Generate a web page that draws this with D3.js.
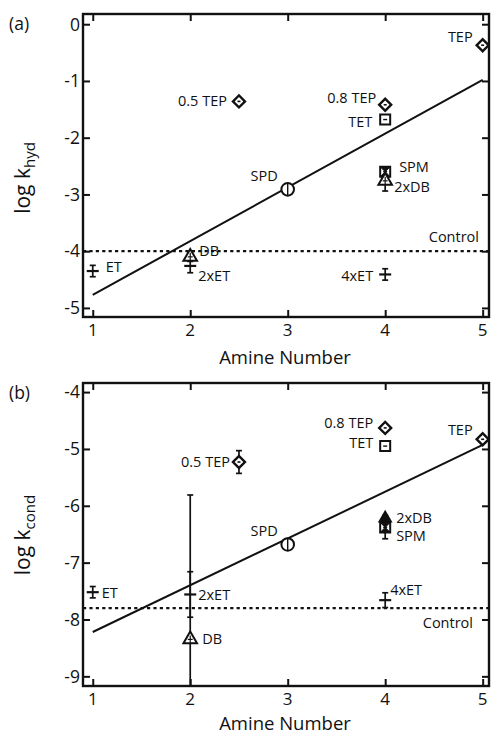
<!DOCTYPE html>
<html>
<head>
<meta charset="utf-8">
<script src="https://cdn.jsdelivr.net/npm/d3@7"></script>
<style>
  body { margin: 0; background: #fff; }
  svg text { font-family: "Open Sans", "DejaVu Sans", sans-serif; fill: #111; }
</style>
</head>
<body>
<div id="chart"></div>
<script>
// ---- data ----
const xTicks = [1, 2, 3, 4, 5];

// panel (a): log k_hyd
const namesA   = ['ET', 'DB', '2xET', '0.5 TEP', 'SPD', '0.8 TEP', 'TET', 'SPM', '2xDB', 'TEP', '4xET'];
const amineA   = [1, 2, 2, 2.5, 3, 4, 4, 4, 4, 5, 4];
const logKhyd  = [-4.35, -4.1, -4.26, -1.36, -2.91, -1.42, -1.68, -2.6, -2.76, -0.37, -4.41];
const errKhyd  = [0.1, 0.08, 0.12, 0, 0.06, 0, 0.05, 0.05, 0.18, 0, 0.1];
const markA    = ['plus', 'triangle', 'plus', 'diamond', 'circle', 'diamond', 'square', 'squareX', 'triangle', 'diamond', 'plus'];
const yTicksA  = [0, -1, -2, -3, -4, -5];
const fitA     = [-4.77, -0.98];   // fit line at x = 1 and x = 5
const controlA = -4.0;

// panel (b): log k_cond
const namesB   = ['ET', '2xET', 'DB', '0.5 TEP', 'SPD', '0.8 TEP', 'TET', 'TEP', '2xDB', 'SPM', '4xET'];
const amineB   = [1, 2, 2, 2.5, 3, 4, 4, 5, 4, 4, 4];
const logKcond = [-7.52, -7.56, -8.35, -5.23, -6.68, -4.63, -4.95, -4.83, -6.22, -6.38, -7.66];
const errKcond = [0.1, 0.4, 2.54, 0.2, 0.1, 0, 0.08, 0, 0.05, 0.2, 0.13];
const markB    = ['plus', 'plus', 'triangle', 'diamond', 'circle', 'diamond', 'square', 'diamond', 'triangleFilled', 'squareX', 'plus'];
const yTicksB  = [-4, -5, -6, -7, -8, -9];
const fitB     = [-8.22, -4.93];
const controlB = -7.8;

// label placement (offset from the marker, px)
const labelA = {
  'ET': [13, -4, 'start'], 'DB': [9, -6, 'start'], '2xET': [8, 10, 'start'],
  '0.5 TEP': [-12, 0, 'end'], 'SPD': [-10, -13, 'end'], '0.8 TEP': [-9, -7, 'end'],
  'TET': [-13, 2, 'end'], 'SPM': [14, -5, 'start'], '2xDB': [9, 6, 'start'],
  'TEP': [-10, -8, 'end'], '4xET': [-12, 1, 'end']
};
const labelB = {
  'ET': [9, 1, 'start'], '2xET': [8, 0, 'start'], 'DB': [12, 0, 'start'],
  '0.5 TEP': [-9, 0, 'end'], 'SPD': [-10, -14, 'end'], '0.8 TEP': [-12, -5, 'end'],
  'TET': [-12, -3, 'end'], 'TEP': [-10, -9, 'end'], '2xDB': [11, 0, 'start'],
  'SPM': [11, 9, 'start'], '4xET': [5, -10, 'start']
};

const W = 492, H = 735;
const left = 83, right = 489;

const svg = d3.select('#chart').append('svg')
  .attr('width', W).attr('height', H);

const x = d3.scaleLinear().domain([0.9, 5.065]).range([left, right]);

function drawPanel(cfg) {
  const y = d3.scaleLinear().domain(cfg.yDomain).range([cfg.bottom, cfg.top]);
  const g = svg.append('g');

  g.append('clipPath').attr('id', 'clip' + cfg.id)
    .append('rect').attr('x', left).attr('y', cfg.top)
    .attr('width', right - left).attr('height', cfg.bottom - cfg.top);

  // axes, ticks all pointing inward
  g.append('g').attr('transform', `translate(0,${cfg.bottom})`)
    .call(d3.axisBottom(x).tickValues(xTicks).tickSize(-7).tickFormat(''))
    .call(a => a.select('.domain').remove());
  g.append('g').attr('transform', `translate(0,${cfg.top})`)
    .call(d3.axisTop(x).tickValues(xTicks).tickSize(-7).tickFormat(''))
    .call(a => a.select('.domain').remove());
  g.append('g').attr('transform', `translate(${left},0)`)
    .call(d3.axisLeft(y).tickValues(cfg.yTicks).tickSize(-7).tickFormat(''))
    .call(a => a.select('.domain').remove());
  g.append('g').attr('transform', `translate(${right},0)`)
    .call(d3.axisRight(y).tickValues(cfg.yTicks).tickSize(-7).tickFormat(''))
    .call(a => a.select('.domain').remove());
  g.selectAll('.tick line').attr('stroke', '#111').attr('stroke-width', 2);

  g.append('rect')
    .attr('x', left).attr('y', cfg.top)
    .attr('width', right - left).attr('height', cfg.bottom - cfg.top)
    .attr('fill', 'none').attr('stroke', '#111').attr('stroke-width', 2.4);

  // tick labels
  g.selectAll('.xl').data(xTicks).join('text')
    .attr('x', d => x(d)).attr('y', cfg.xTickY)
    .attr('text-anchor', 'middle').attr('font-size', 17)
    .text(d => d);
  g.selectAll('.yl').data(cfg.yTicks).join('text')
    .attr('x', left - 3).attr('y', d => y(d)).attr('dy', '0.36em')
    .attr('text-anchor', 'end').attr('font-size', 17.5)
    .text(d => d === 0 ? '0' : '-' + Math.abs(d));

  // axis titles
  g.append('text').attr('x', (left + right) / 2 - 1).attr('y', cfg.xTitleY)
    .attr('text-anchor', 'middle').attr('font-size', 18.5).text('Amine Number');
  const yt = g.append('text')
    .attr('transform', `translate(30,${cfg.yTitleY}) rotate(-90)`)
    .attr('text-anchor', 'middle').attr('font-size', 21);
  yt.append('tspan').text('log k');
  yt.append('tspan').attr('font-size', 15).attr('dy', 5).text(cfg.sub);

  g.append('text').attr('x', 9).attr('y', cfg.top + 16)
    .attr('font-size', 17.5).text(cfg.tag);

  const plot = g.append('g').attr('clip-path', `url(#clip${cfg.id})`);

  // control level
  plot.append('line')
    .attr('x1', left).attr('x2', right)
    .attr('y1', y(cfg.control)).attr('y2', y(cfg.control))
    .attr('stroke', '#111').attr('stroke-width', 2.2).attr('stroke-dasharray', '3.2,3.2');

  // linear fit
  plot.append('line')
    .attr('x1', x(1)).attr('y1', y(cfg.fit[0]))
    .attr('x2', x(5)).attr('y2', y(cfg.fit[1]))
    .attr('stroke', '#111').attr('stroke-width', 2);

  const pts = cfg.names.map((n, i) => ({
    name: n, x: cfg.xs[i], v: cfg.vals[i], e: cfg.errs[i], m: cfg.marks[i]
  }));

  // error bars
  const eb = plot.selectAll('.eb').data(pts.filter(d => d.e > 0)).join('g')
    .attr('stroke', '#111').attr('stroke-width', 1.7);
  eb.append('line')
    .attr('x1', d => x(d.x)).attr('x2', d => x(d.x))
    .attr('y1', d => y(d.v - d.e)).attr('y2', d => y(d.v + d.e));
  eb.append('line')
    .attr('x1', d => x(d.x) - 3).attr('x2', d => x(d.x) + 3)
    .attr('y1', d => y(d.v + d.e)).attr('y2', d => y(d.v + d.e));
  eb.append('line')
    .attr('x1', d => x(d.x) - 3).attr('x2', d => x(d.x) + 3)
    .attr('y1', d => y(d.v - d.e)).attr('y2', d => y(d.v - d.e));

  // markers
  const mk = plot.selectAll('.mk').data(pts).join('g')
    .attr('transform', d => `translate(${x(d.x)},${y(d.v)})`)
    .attr('stroke', '#111').attr('stroke-width', 2).attr('fill', '#fff');
  mk.each(function (d) {
    const s = d3.select(this);
    if (d.m === 'plus') {
      s.append('line').attr('x1', -6).attr('x2', 6).attr('stroke-width', 2.2);
    } else if (d.m === 'diamond') {
      s.append('path').attr('d', d3.symbol(d3.symbolSquare, 72)()).attr('transform', 'rotate(45)')
        .attr('stroke-width', 2.4);
      s.append('line').attr('x1', -1.5).attr('x2', 1.5).attr('stroke-width', 1.6);
    } else if (d.m === 'square' || d.m === 'squareX') {
      s.append('path').attr('d', d3.symbol(d3.symbolSquare, 100)());
      if (d.m === 'squareX') {
        s.append('path').attr('d', 'M-5,-5L5,-5L0,0ZM-5,5L5,5L0,0Z').attr('fill', '#111').attr('stroke-width', 1);
      }
      s.append('line').attr('x1', -2).attr('x2', 2).attr('stroke-width', 1.4);
    } else if (d.m === 'triangle' || d.m === 'triangleFilled') {
      s.append('path').attr('d', d3.symbol(d3.symbolTriangle, d.m === 'triangleFilled' ? 55 : 80)())
        .attr('fill', d.m === 'triangleFilled' ? '#111' : '#fff');
      s.append('line').attr('y1', -4).attr('y2', 4).attr('stroke-width', 1.2);
      s.append('line').attr('x1', -2.5).attr('x2', 2.5).attr('stroke-width', 1.2);
    } else if (d.m === 'circle') {
      s.append('circle').attr('r', 6.3);
      s.append('line').attr('y1', -6).attr('y2', 6).attr('stroke-width', 1.4);
    }
  });

  // point labels
  g.selectAll('.pl').data(pts).join('text')
    .attr('x', d => x(d.x) + cfg.labels[d.name][0])
    .attr('y', d => y(d.v) + cfg.labels[d.name][1])
    .attr('dy', '0.35em')
    .attr('text-anchor', d => cfg.labels[d.name][2])
    .attr('font-size', 14.5)
    .text(d => d.name);

  g.append('text')
    .attr('x', cfg.controlLabel[0]).attr('y', y(cfg.control) + cfg.controlLabel[1])
    .attr('dy', '0.35em').attr('text-anchor', 'end').attr('font-size', 14.5)
    .text('Control');
}

drawPanel({
  id: 'a', tag: '(a)', sub: 'hyd', top: 14, bottom: 317, yDomain: [-5.16, 0.18],
  yTicks: yTicksA, xTickY: 336, xTitleY: 364, yTitleY: 178,
  names: namesA, xs: amineA, vals: logKhyd, errs: errKhyd, marks: markA,
  labels: labelA, fit: fitA, control: controlA, controlLabel: [479, -14]
});

drawPanel({
  id: 'b', tag: '(b)', sub: 'cond', top: 383, bottom: 686, yDomain: [-9.17, -3.84],
  yTicks: yTicksB, xTickY: 705, xTitleY: 730, yTitleY: 535,
  names: namesB, xs: amineB, vals: logKcond, errs: errKcond, marks: markB,
  labels: labelB, fit: fitB, control: controlB, controlLabel: [473, 15]
});
</script>
</body>
</html>
